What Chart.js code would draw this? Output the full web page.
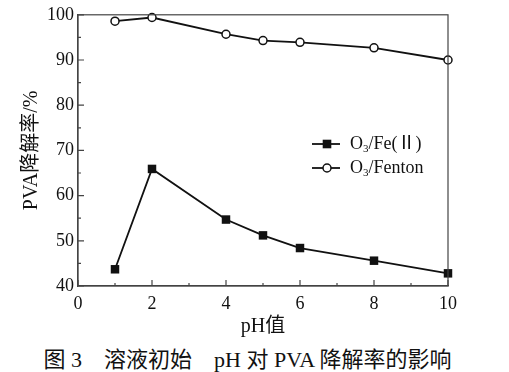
<!DOCTYPE html>
<html>
<head>
<meta charset="utf-8">
<script src="https://cdn.jsdelivr.net/npm/chart.js@4.4.1/dist/chart.umd.min.js"></script>
<style>
  html, body { margin: 0; padding: 0; background: #fff; }
  #wrap { width: 509px; height: 372px; position: relative; overflow: hidden; }
  #plot { width: 509px; height: 340px; position: relative; }
  #caption {
    position: absolute; left: 0; top: 341px; width: 495px; line-height: 26px;
    text-align: center; white-space: pre; color: #111;
    font: 22px "Liberation Serif", "Times New Roman", "Noto Sans CJK SC", serif;
  }
</style>
</head>
<body>
<div id="wrap">
  <div id="plot"><canvas id="phChart"></canvas></div>
  <div id="caption">图 3　溶液初始　pH 对 PVA 降解率的影响</div>
</div>
<script>
// data
const phValues = [1, 2, 4, 5, 6, 8, 10];
const feIIRates = [43.7, 65.9, 54.7, 51.2, 48.4, 45.6, 42.8];
const fentonRates = [98.6, 99.4, 95.7, 94.3, 93.9, 92.7, 90.0];
const seriesNames = ['O3/Fe(Ⅱ)', 'O3/Fenton'];
const xTickValues = [0, 2, 4, 6, 8, 10];
const yTickValues = [40, 50, 60, 70, 80, 90, 100];

const serif = '"Liberation Serif", "Times New Roman", "Noto Sans CJK SC", serif';
const ink = '#111';
const axisColor = '#444';

// draw "O3/..." with the 3 as a subscript
function drawSubText(ctx, text, x, y, size) {
    let cx = x;
    for (let i = 0; i < text.length; i++) {
        const ch = text[i];
        const isSub = /[0-9]/.test(ch) && i > 0 && text[i - 1] === 'O';
        ctx.font = (isSub ? Math.round(size * 0.62) : size) + 'px ' + serif;
        ctx.fillText(ch, cx, isSub ? y + size * 0.28 : y);
        cx += ctx.measureText(ch).width;
    }
}

// inward ticks, minor ticks, box frame and legend
const framePlugin = {
    id: 'frame',
    afterDraw(chart) {
        const ctx = chart.ctx;
        const area = chart.chartArea;
        const xs = chart.scales.x, ys = chart.scales.y;
        ctx.save();
        ctx.strokeStyle = axisColor;
        ctx.lineWidth = 1.2;
        ctx.strokeRect(area.left, area.top, area.right - area.left, area.bottom - area.top);

        ctx.beginPath();
        for (let v = xs.min; v <= xs.max; v++) {
            const px = xs.getPixelForValue(v);
            const len = v % 2 === 0 ? 6 : 3;
            ctx.moveTo(px, area.bottom);
            ctx.lineTo(px, area.bottom - len);
        }
        for (let v = ys.min; v <= ys.max; v += 5) {
            const py = ys.getPixelForValue(v);
            const len = v % 10 === 0 ? 6 : 3;
            ctx.moveTo(area.left, py);
            ctx.lineTo(area.left + len, py);
        }
        ctx.stroke();

        // legend
        const lx = 312, ly = 144, rowH = 24;
        chart.data.datasets.forEach((ds, i) => {
            const y = ly + i * rowH;
            ctx.strokeStyle = ink;
            ctx.lineWidth = 1.8;
            ctx.beginPath();
            ctx.moveTo(lx, y);
            ctx.lineTo(lx + 28, y);
            ctx.stroke();
            const mx = lx + 15;
            if (ds.pointStyle === 'rect') {
                ctx.fillStyle = ink;
                ctx.fillRect(mx - 4.3, y - 4.3, 8.6, 8.6);
            } else {
                ctx.fillStyle = '#fff';
                ctx.lineWidth = 1.5;
                ctx.beginPath();
                ctx.arc(mx, y, 4, 0, Math.PI * 2);
                ctx.fill();
                ctx.stroke();
            }
            ctx.fillStyle = ink;
            ctx.textBaseline = 'middle';
            ctx.textAlign = 'left';
            drawSubText(ctx, ds.label, lx + 38, y, 18);
        });
        ctx.restore();
    }
};

const ctx = document.getElementById('phChart');
new Chart(ctx, {
    type: 'line',
    data: {
        datasets: [{
            label: seriesNames[0],
            data: phValues.map((x, i) => ({ x: x, y: feIIRates[i] })),
            borderColor: ink,
            backgroundColor: ink,
            borderWidth: 1.8,
            pointStyle: 'rect',
            pointRadius: 6,
            pointBorderWidth: 0,
            clip: false,
            tension: 0
        }, {
            label: seriesNames[1],
            data: phValues.map((x, i) => ({ x: x, y: fentonRates[i] })),
            borderColor: ink,
            backgroundColor: '#fff',
            borderWidth: 1.8,
            pointStyle: 'circle',
            pointRadius: 4,
            pointBorderWidth: 1.5,
            clip: false,
            tension: 0
        }]
    },
    options: {
        responsive: true,
        maintainAspectRatio: false,
        animation: false,
        layout: { padding: { top: 13, right: 61, left: 0, bottom: 0 } },
        plugins: {
            legend: { display: false },
            tooltip: { enabled: false }
        },
        scales: {
            x: {
                type: 'linear',
                min: 0,
                max: 10,
                afterBuildTicks(s) { s.ticks = xTickValues.map(v => ({ value: v })); },
                afterFit(s) { s.height = 54; },
                grid: { display: false, drawTicks: false },
                border: { display: true, color: axisColor, width: 1.2 },
                ticks: { color: ink, padding: 7, font: { family: serif, size: 18 } },
                title: {
                    display: true,
                    text: 'pH值',
                    color: ink,
                    font: { family: serif, size: 20 },
                    padding: { top: 0, bottom: 1.5 }
                }
            },
            y: {
                min: 40,
                max: 100,
                afterBuildTicks(s) { s.ticks = yTickValues.map(v => ({ value: v })); },
                afterFit(s) { s.width = 78; },
                grid: { display: false, drawTicks: false },
                border: { display: true, color: axisColor, width: 1.2 },
                ticks: { color: ink, padding: 4, font: { family: serif, size: 18 } },
                title: {
                    display: true,
                    text: 'PVA降解率/%',
                    color: ink,
                    font: { family: serif, size: 20 },
                    padding: { top: 20, bottom: 0 }
                }
            }
        }
    },
    plugins: [framePlugin]
});
</script>
</body>
</html>
